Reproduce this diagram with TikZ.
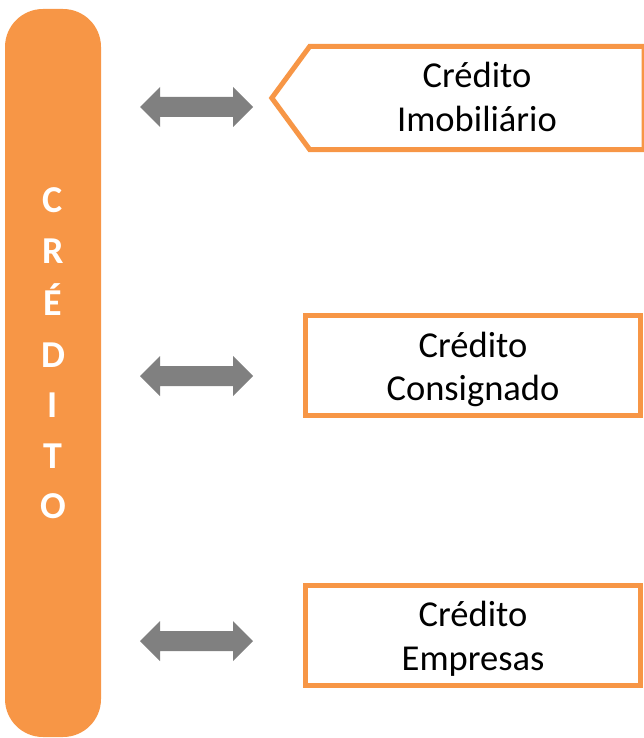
\documentclass[tikz,border=0pt]{standalone}
\usepackage{fontspec}
\setmainfont{Carlito}
\definecolor{accent}{HTML}{F79646}
\definecolor{arrowgray}{HTML}{808080}
\begin{document}
\begin{tikzpicture}[x=1pt,y=-1pt,
  boxframe/.style={draw=accent, line width=5pt, fill=white, inner sep=0pt},
  boxtext/.style={font=\fontsize{36.5}{44}\selectfont, anchor=base, inner sep=0pt, text=black},
  barletter/.style={text=white, font=\fontsize{38}{38}\bfseries\selectfont, anchor=base, inner sep=0pt},
  dblarr/.pic={\fill[arrowgray] (-56.5,0) -- (-36.5,-20) -- (-36.5,-10) -- (36.5,-10) -- (36.5,-20) -- (56.5,0) -- (36.5,20) -- (36.5,10) -- (-36.5,10) -- (-36.5,20) -- cycle;}]
\useasboundingbox (0,0) rectangle (644,738);
% vertical bar
\node[fill=accent, rounded corners=38pt, minimum width=96pt, minimum height=728pt, inner sep=0pt] (bar) at (53,373) {};
\node[barletter] (l1) at (53,212) {C};
\node[barletter] (l2) at (53,263) {R};
\node[barletter] (l3) at (53,315) {É};
\node[barletter] (l4) at (53,367) {D};
\node[barletter] (l5) at (53,417) {I};
\node[barletter] (l6) at (53,468) {T};
\node[barletter] (l7) at (53,518) {O};
% double arrows
\pic (a1) at (196.5,107) {dblarr};
\pic (a2) at (196.5,376) {dblarr};
\pic (a3) at (196.5,641) {dblarr};
% box 1 (pointed left)
\node[minimum width=334pt, minimum height=103pt, inner sep=0pt] (box1) at (477,98) {};
\draw[draw=accent, line width=5pt, fill=white] (box1.north west) -- (box1.north east) -- (box1.south east) -- (box1.south west) -- ([xshift=-38pt]box1.west) -- cycle;
\node[boxtext] (t1a) at (477,88) {Crédito};
\node[boxtext] (t1b) at (477,132) {Imobiliário};
% box 2
\node[boxframe, minimum width=335pt, minimum height=100pt] (box2) at (473,365.5) {};
\node[boxtext] (t2a) at (473,357) {Crédito};
\node[boxtext] (t2b) at (473,400) {Consignado};
% box 3
\node[boxframe, minimum width=335pt, minimum height=100pt] (box3) at (473,635.5) {};
\node[boxtext] (t3a) at (473,626) {Crédito};
\node[boxtext] (t3b) at (473,670) {Empresas};
\end{tikzpicture}
\end{document}
